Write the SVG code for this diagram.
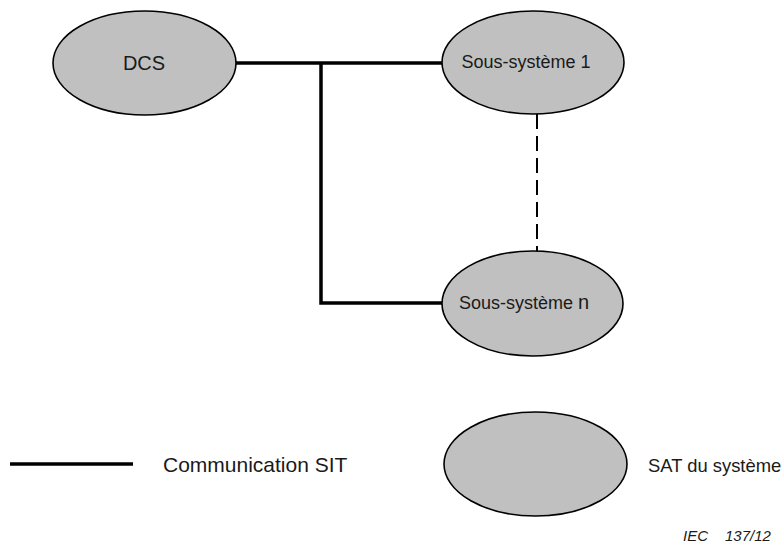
<svg xmlns="http://www.w3.org/2000/svg" width="784" height="545" viewBox="0 0 784 545">
<style>
.node{fill:#c0c0c0;stroke:#000;stroke-width:1.6}
.lbl{font-family:"Liberation Sans",Arial,sans-serif;fill:#1a1a1a}
.com{fill:none;stroke:#000;stroke-width:3.5;stroke-linejoin:miter;stroke-linecap:butt}
.dash{fill:none;stroke:#000;stroke-width:2;stroke-dasharray:15,7}
</style>
<rect width="784" height="545" fill="#fff"/>
<g id="connectors">
<line class="com" x1="236" y1="63" x2="443" y2="63"/>
<polyline class="com" points="321,63 321,303 443,303"/>
<line class="dash" x1="537" y1="114" x2="537" y2="252"/>
</g>
<g id="dcs">
<ellipse class="node" cx="144.5" cy="63" rx="91.5" ry="52"/>
<text class="lbl" x="144" y="69.5" font-size="20" text-anchor="middle">DCS</text>
</g>
<g id="ss1">
<ellipse class="node" cx="533" cy="62.5" rx="91" ry="51.5"/>
<text class="lbl" x="526" y="68" font-size="18" text-anchor="middle">Sous-système 1</text>
</g>
<g id="ssn">
<ellipse class="node" cx="532.5" cy="303.5" rx="90.5" ry="52.5"/>
<text class="lbl" x="459" y="309" font-size="18">Sous-système <tspan font-size="20">n</tspan></text>
</g>
<g id="legend">
<line class="com" x1="10" y1="464" x2="133" y2="464" stroke-width="4"/>
<text class="lbl" x="163" y="472" font-size="21">Communication SIT</text>
<ellipse class="node" cx="535.5" cy="464" rx="91.5" ry="52"/>
<text class="lbl" x="648" y="472" font-size="18.4">SAT du système</text>
</g>
<g id="ref">
<text class="lbl" x="683" y="541" font-size="15" font-style="italic">IEC</text>
<text class="lbl" x="725" y="541" font-size="15" font-style="italic">137/12</text>
</g>
</svg>
